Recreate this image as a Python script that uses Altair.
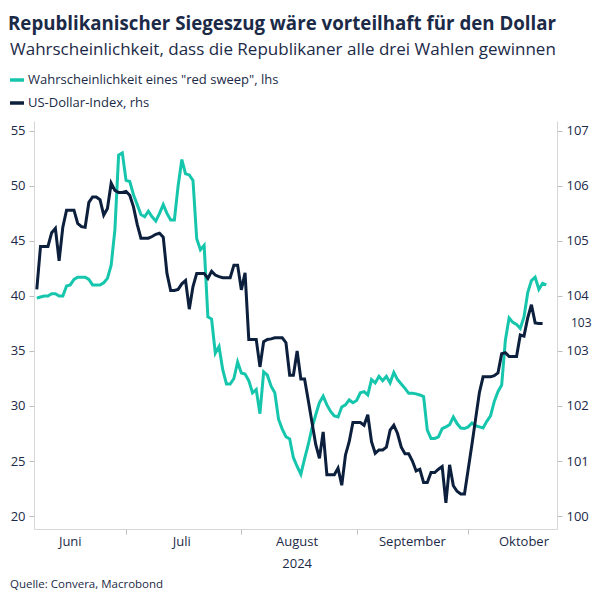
import altair as alt
import pandas as pd

# ---------------- data ----------------
teal_values = [
    # June 7 - 30
    39.8, 39.9, 40.0, 40.0, 40.2, 40.2, 40.0, 40.0, 40.9, 41.0, 41.5, 41.7,
    41.7, 41.7, 41.5, 41.0, 41.0, 41.0, 41.2, 41.6, 42.8, 46.0, 52.8, 53.0,
    # July
    50.5, 50.4, 49.2, 48.3, 47.4, 47.2, 47.7, 47.2, 46.8, 47.5, 48.3, 47.5,
    46.9, 46.9, 50.0, 52.4, 51.1, 51.0, 50.5, 45.2, 44.2, 44.6, 38.1, 37.9,
    34.8, 35.4, 33.3, 32.0, 32.0, 32.5, 34.0,
    # August
    33.0, 32.9, 32.3, 31.2, 31.5, 29.3, 33.1, 32.8, 31.8, 31.2, 28.8, 27.9,
    27.2, 27.0, 25.3, 24.5, 23.8, 25.2, 26.5, 28.0, 29.2, 30.3, 30.9, 30.1,
    29.5, 29.1, 29.0, 29.9, 30.1, 30.55, 30.3,
    # September
    30.5, 31.2, 31.3, 31.0, 32.4, 32.1, 32.7, 32.3, 32.7, 32.1, 33.05, 32.4,
    32.0, 31.6, 31.15, 31.15, 31.1, 31.0, 30.85, 27.8, 27.05, 27.05, 27.2, 27.95,
    28.1, 28.3, 29.0, 28.4, 28.0, 27.95,
    # October 1 - 22
    28.1, 28.45, 28.2, 28.1, 28.0, 28.6, 29.1, 30.4, 31.3, 31.9, 36.0, 38.0,
    37.6, 37.4, 37.05, 38.1, 40.3, 41.4, 41.7, 40.6, 41.15, 41.0,
]
navy_values = [
    # June 7 - 30
    104.12, 104.9, 104.9, 104.9, 105.15, 105.23, 104.64, 105.25, 105.56, 105.56,
    105.56, 105.32, 105.26, 105.25, 105.7, 105.8, 105.8, 105.75, 105.47, 105.59,
    106.05, 105.92, 105.88, 105.88,
    # July
    105.9, 105.83, 105.62, 105.3, 105.05, 105.05, 105.05, 105.08, 105.12, 105.14,
    105.07, 104.41, 104.1, 104.1, 104.12, 104.22, 104.28, 103.76, 104.17, 104.41,
    104.41, 104.41, 104.32, 104.45, 104.38, 104.35, 104.33, 104.33, 104.33, 104.56,
    104.56,
    # August
    104.11, 104.42, 103.21, 103.21, 103.21, 102.71, 103.17, 103.21, 103.22, 103.24,
    103.24, 103.24, 103.15, 102.56, 102.56, 103.0, 102.49, 102.49, 102.1, 101.7,
    101.3, 101.05, 101.53, 100.75, 100.75, 100.75, 100.87, 100.56, 101.11, 101.35,
    101.7,
    # September
    101.7, 101.7, 101.65, 101.84, 101.35, 101.14, 101.2, 101.2, 101.25, 101.56,
    101.65, 101.5, 101.25, 101.13, 101.13, 101.0, 100.82, 100.85, 100.61, 100.61,
    100.79, 100.79, 100.85, 100.9, 100.24, 100.93, 100.55, 100.45, 100.4, 100.4,
    # October 1 - 21
    100.85, 101.3, 101.77, 102.24, 102.53, 102.53, 102.53, 102.55, 102.6, 102.95,
    102.97, 102.9, 102.9, 102.9, 103.29, 103.27, 103.6, 103.84, 103.51, 103.5,
    103.5,
]
teal_dates = pd.date_range("2024-06-07", "2024-10-22", freq="D").strftime("%Y-%m-%d")
navy_dates = pd.date_range("2024-06-07", "2024-10-21", freq="D").strftime("%Y-%m-%d")

month_names = ["Juni", "Juli", "August", "September", "Oktober"]
month_mid = ["2024-06-16", "2024-07-16", "2024-08-16", "2024-09-16", "2024-10-16"]
left_ticks = [20, 25, 30, 35, 40, 45, 50, 55]
right_ticks = [100, 101, 102, 103, 104, 105, 106, 107]
end_label = "103"

title_text = "Republikanischer Siegeszug wäre vorteilhaft für den Dollar"
subtitle_text = "Wahrscheinlichkeit, dass die Republikaner alle drei Wahlen gewinnen"
legend_labels = ['Wahrscheinlichkeit eines "red sweep", lhs', "US-Dollar-Index, rhs"]
source_text = "Quelle: Convera, Macrobond"

TEAL = "#16c6ac"
NAVY = "#0c1f3d"
TEXT = "#1b2a47"
FONT = "Open Sans"
W, H = 523, 408

teal_df = pd.DataFrame({"date": teal_dates, "value": teal_values})
navy_df = pd.DataFrame({"date": navy_dates, "value": navy_values})
last_df = navy_df.tail(1).assign(label=end_label)
month_df = pd.DataFrame({"date": month_mid, "name": month_names})

x_scale = alt.Scale(
    type="utc",
    domain=[alt.DateTime(year=2024, month=6, date=6, hours=6, utc=True),
            alt.DateTime(year=2024, month=10, date=24, hours=21, utc=True)],
)
x_axis = alt.Axis(
    values=[alt.DateTime(year=2024, month=m, date=1, utc=True) for m in (7, 8, 9, 10)],
    labels=False, ticks=True, tickSize=5, title=None, grid=False,
)

teal = alt.Chart(teal_df).mark_line(color=TEAL, strokeWidth=3).encode(
    x=alt.X("date:T", scale=x_scale, axis=x_axis),
    y=alt.Y("value:Q",
            scale=alt.Scale(domain=[18.82, 55.9], nice=False, zero=False),
            axis=alt.Axis(values=left_ticks, orient="left", title=None, grid=False)),
)

right_y = alt.Scale(domain=[99.764, 107.18], nice=False, zero=False)
right_axis = alt.Axis(values=right_ticks, orient="right", title=None, grid=False)
navy = alt.Chart(navy_df).mark_line(color=NAVY, strokeWidth=3).encode(
    x=alt.X("date:T", scale=x_scale, axis=x_axis),
    y=alt.Y("value:Q", scale=right_y, axis=right_axis),
)
navy_label = alt.Chart(last_df).mark_text(
    align="left", baseline="middle", font=FONT, fontSize=12, color=TEXT
).encode(
    x=alt.value(W + 14),
    y=alt.Y("value:Q", scale=right_y, axis=right_axis),
    text="label:N",
)

months = alt.Chart(month_df).mark_text(
    align="center", baseline="middle", font=FONT, fontSize=13, color=TEXT
).encode(
    x=alt.X("date:T", scale=x_scale, axis=x_axis),
    y=alt.value(H + 13),
    text="name:N",
)
year = alt.Chart(pd.DataFrame({"date": ["2024-08-16"], "t": ["2024"]})).mark_text(
    align="center", baseline="middle", font=FONT, fontSize=13, color=TEXT
).encode(
    x=alt.X("date:T", scale=x_scale, axis=x_axis),
    y=alt.value(H + 35),
    text="t:N",
)


def txt(s, x, y, size, weight="normal", baseline="alphabetic"):
    return alt.Chart(pd.DataFrame({"t": [s]})).mark_text(
        align="left", baseline=baseline, font=FONT, fontSize=size,
        fontWeight=weight, color=TEXT,
    ).encode(x=alt.value(x), y=alt.value(y), text="t:N")


title = txt(title_text, -26, -91, 18.7, "bold")
subtitle = txt(subtitle_text, -24, -66, 17)
leg1 = txt(legend_labels[0], -6, -41, 13, baseline="middle")
leg2 = txt(legend_labels[1], -6, -18, 13, baseline="middle")
sw1 = alt.Chart(pd.DataFrame({"a": [0]})).mark_rule(color=TEAL, strokeWidth=3.5).encode(
    x=alt.value(-24), x2=alt.value(-10), y=alt.value(-41))
sw2 = alt.Chart(pd.DataFrame({"a": [0]})).mark_rule(color=NAVY, strokeWidth=3.5).encode(
    x=alt.value(-24), x2=alt.value(-10), y=alt.value(-18))
source = txt(source_text, -24, H + 56, 11.5, baseline="middle")

chart = alt.layer(
    teal,
    alt.layer(navy, navy_label),
    months, year, title, subtitle, leg1, leg2, sw1, sw2, source,
).resolve_scale(y="independent").properties(
    width=W, height=H,
    padding={"left": 34, "top": 121, "right": 47, "bottom": 75},
    autosize=alt.AutoSizeParams(type="none"),
    background="white",
).configure_view(stroke=None).configure_axis(
    labelFont=FONT, labelFontSize=13, labelColor=TEXT,
    domainColor="#d6d6d6", tickColor="#bdbdbd", tickSize=5, labelPadding=4,
)

chart.save("out.html", embed_options={"renderer": "svg", "actions": False})
